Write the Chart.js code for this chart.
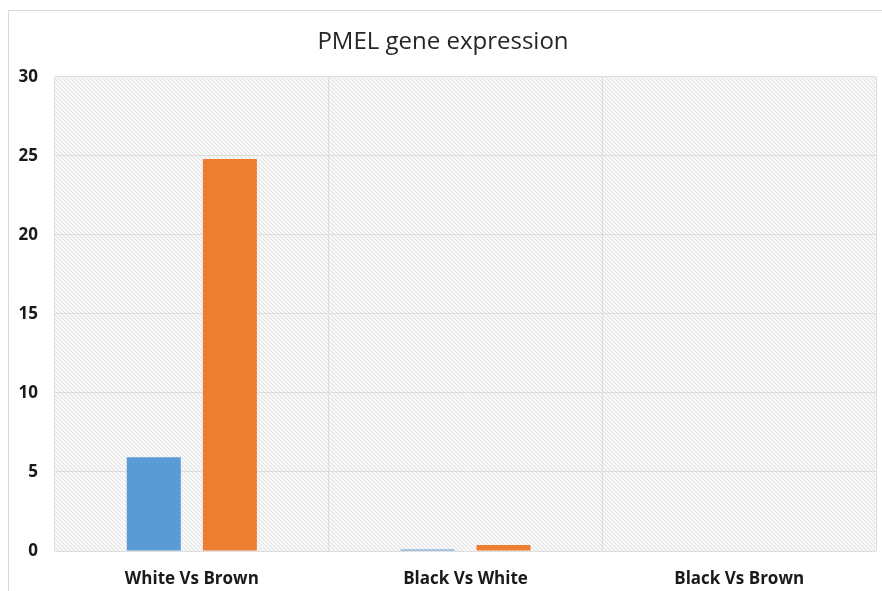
<!DOCTYPE html>
<html>
<head>
<meta charset="utf-8">
<script src="https://cdn.jsdelivr.net/npm/chart.js@4"></script>
<style>
  html, body { margin: 0; padding: 0; background: #fff; }
  #wrap { width: 882px; height: 591px; position: relative; }
</style>
</head>
<body>
<div id="wrap"><canvas id="pmelChart" width="882" height="591"></canvas></div>
<script>
// PMEL expression per comparison
const comparisons = ["White Vs Brown", "Black Vs White", "Black Vs Brown"];
const seriesA = [5.93, 0.1, 0];
const seriesB = [24.8, 0.38, 0];
const yTicks = [0, 5, 10, 15, 20, 25, 30];

const FONT = "'Open Sans', 'Liberation Sans', sans-serif";

// hatched fill for the plot area
function makeHatch(ctx) {
  const c = document.createElement("canvas");
  c.width = 4; c.height = 4;
  const p = c.getContext("2d");
  p.fillStyle = "#f8f8f8";
  p.fillRect(0, 0, 4, 4);
  p.strokeStyle = "#e0e0e0";
  p.lineWidth = 1;
  p.beginPath();
  p.moveTo(0, 0); p.lineTo(4, 4);
  p.moveTo(-1, 3); p.lineTo(1, 5);
  p.moveTo(3, -1); p.lineTo(5, 1);
  p.stroke();
  return ctx.createPattern(c, "repeat");
}

const plotBackground = {
  id: "plotBackground",
  beforeDraw(chart) {
    const { ctx, chartArea: a } = chart;
    ctx.save();
    // outer frame
    ctx.strokeStyle = "#d9d9d9";
    ctx.lineWidth = 1;
    ctx.beginPath();
    ctx.moveTo(8.5, 591); ctx.lineTo(8.5, 10.5); ctx.lineTo(882, 10.5);
    ctx.stroke();
    ctx.fillStyle = makeHatch(ctx);
    ctx.fillRect(a.left, a.top, a.right - a.left, a.bottom - a.top);
    ctx.restore();
  }
};

const ctx = document.getElementById("pmelChart").getContext("2d");
new Chart(ctx, {
  type: "bar",
  data: {
    labels: comparisons,
    datasets: [
      { label: "A", data: seriesA, backgroundColor: "#5b9bd5", categoryPercentage: 0.556, barPercentage: 0.71 },
      { label: "B", data: seriesB, backgroundColor: "#ed7d31", categoryPercentage: 0.556, barPercentage: 0.71 }
    ]
  },
  options: {
    responsive: false,
    animation: false,
    layout: { padding: { left: 10, right: 6, top: 0, bottom: 0 } },
    plugins: {
      legend: { display: false },
      tooltip: { enabled: false },
      title: {
        display: true,
        text: "PMEL gene expression",
        color: "#262626",
        font: { family: FONT, size: 24, weight: "normal" },
        padding: { top: 28, bottom: 20 }
      }
    },
    scales: {
      x: {
        offset: true,
        grid: { color: "#dedede", offset: true, drawTicks: false },
        border: { display: false },
        ticks: {
          color: "#1a1a1a",
          padding: 18,
          font: { family: FONT, size: 17, weight: "bold" }
        },
        afterFit(scale) { scale.height = 40; }
      },
      y: {
        min: 0,
        max: 30,
        afterBuildTicks(scale) { scale.ticks = yTicks.map(v => ({ value: v })); },
        grid: { color: "#dedede", drawTicks: false },
        border: { display: false },
        ticks: {
          color: "#1a1a1a",
          padding: 17,
          font: { family: FONT, size: 17, weight: "bold" }
        },
        afterFit(scale) { scale.width = 45; }
      }
    }
  },
  plugins: [plotBackground]
});
</script>
</body>
</html>
